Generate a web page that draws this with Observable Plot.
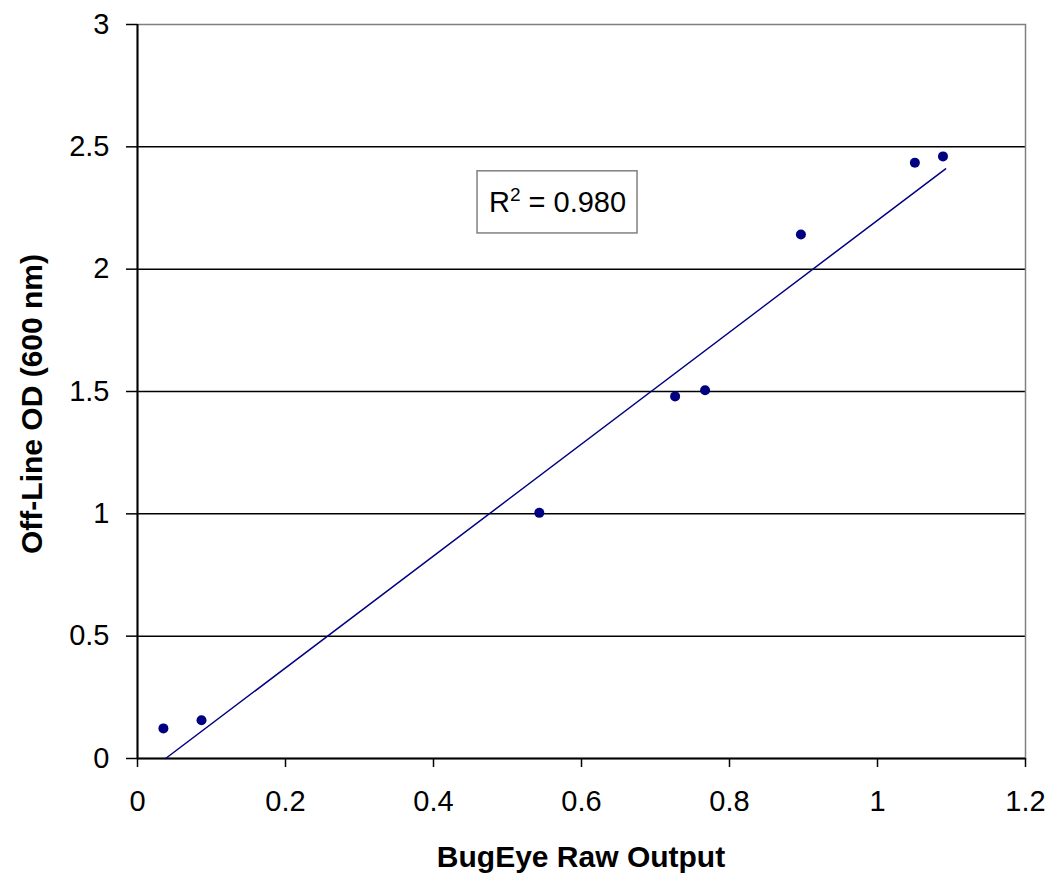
<!DOCTYPE html>
<html>
<head>
<meta charset="utf-8">
<script src="https://cdn.jsdelivr.net/npm/d3@7"></script>
<script src="https://cdn.jsdelivr.net/npm/@observablehq/plot@0.6"></script>
<style>
  html, body { margin: 0; padding: 0; background: #fff; }
  #chart { width: 1054px; height: 888px; }
</style>
</head>
<body>
<div id="chart"></div>
<script>
// Data
const bugEyeRaw = [0.035, 0.0865, 0.543, 0.7265, 0.767, 0.8965, 1.0505, 1.0885];
const offLineOD = [0.123, 0.156, 1.004, 1.480, 1.505, 2.142, 2.435, 2.461];
const trendX = [0.038, 1.092];
const trendY = [0, 2.41];
const xTicks = [0, 0.2, 0.4, 0.6, 0.8, 1, 1.2];
const yTicks = [0, 0.5, 1, 1.5, 2, 2.5, 3];
const r2Label = "R2 = 0.980";
const r2Box = {x1: 0.4595, x2: 0.6757, y1: 2.146, y2: 2.400};
const xTitle = "BugEye Raw Output";
const yTitle = "Off-Line OD (600 nm)";

const points = bugEyeRaw.map((x, i) => ({x, y: offLineOD[i]}));
const trend = trendX.map((x, i) => ({x, y: trendY[i]}));

const navy = "#000080";
const font = "'Liberation Sans', Arial, sans-serif";

const plot = Plot.plot({
  width: 1054,
  height: 888,
  marginLeft: 137,
  marginRight: 29,
  marginTop: 24,
  marginBottom: 130,
  style: {fontFamily: font, fontSize: "29px", background: "white", color: "black", overflow: "visible"},
  x: {domain: [0, 1.2]},
  y: {domain: [0, 3]},
  marks: [
    Plot.gridY(yTicks.filter(d => d > 0 && d < 3), {stroke: "black", strokeOpacity: 1, strokeWidth: 1.5}),
    Plot.frame({stroke: "#808080", strokeWidth: 1.5}),
    Plot.ruleX([0], {stroke: "black", strokeWidth: 2}),
    Plot.ruleY([0], {stroke: "black", strokeWidth: 2}),
    Plot.axisX(xTicks, {tickSize: 9, tickPadding: 23, strokeWidth: 1.5, label: null, fontSize: 29, tickFormat: d => String(d)}),
    Plot.axisY(yTicks, {tickSize: 11, tickPadding: 17, strokeWidth: 1.5, label: null, fontSize: 29, tickFormat: d => String(d)}),
    Plot.line(trend, {x: "x", y: "y", stroke: navy, strokeWidth: 1.5}),
    Plot.dot(points, {x: "x", y: "y", r: 5, fill: navy, stroke: "none"}),
    Plot.rect([r2Box], {x1: "x1", x2: "x2", y1: "y1", y2: "y2", fill: "white", stroke: "#808080", strokeWidth: 1.5}),
    Plot.text([r2Label], {
      x: (r2Box.x1 + r2Box.x2) / 2,
      y: (r2Box.y1 + r2Box.y2) / 2,
      text: d => d,
      fontSize: 29,
      fill: "black",
      textAnchor: "middle",
      lineAnchor: "middle"
    })
  ]
});

document.getElementById("chart").appendChild(plot);

// Superscript the "2" in R2
const svg = d3.select(plot);
svg.selectAll("text").filter(function() { return this.textContent === r2Label; })
  .each(function() {
    const t = d3.select(this);
    t.text(null);
    t.append("tspan").text("R");
    t.append("tspan").attr("dy", -11).attr("font-size", 19).text("2");
    t.append("tspan").attr("dy", 11).text(" = 0.980");
  });

// Axis titles
const xs = plot.scale("x"), ys = plot.scale("y");
const xMid = (xs.apply(0) + xs.apply(1.2)) / 2;
svg.append("text")
  .attr("x", xMid)
  .attr("y", 867)
  .attr("text-anchor", "middle")
  .attr("font-family", font)
  .attr("font-weight", "bold")
  .attr("font-size", 30)
  .attr("fill", "black")
  .text(xTitle);
svg.append("text")
  .attr("transform", "translate(41.5,404) rotate(-90)")
  .attr("text-anchor", "middle")
  .attr("font-family", font)
  .attr("font-weight", "bold")
  .attr("font-size", 30)
  .attr("fill", "black")
  .text(yTitle);
</script>
</body>
</html>
